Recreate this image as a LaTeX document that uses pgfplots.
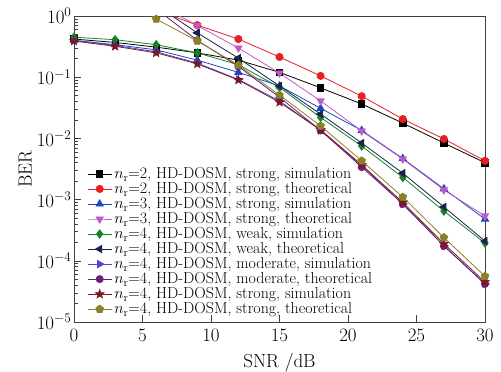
\RequirePackage{fix-cm}
\documentclass[border=0pt]{standalone}
\usepackage{pgfplots}
\pgfplotsset{compat=1.18}
\usetikzlibrary{plotmarks}
\definecolor{cred}{RGB}{232,30,36}
\definecolor{cblue}{RGB}{30,70,190}
\definecolor{cmag}{RGB}{190,90,200}
\definecolor{cgreen}{RGB}{20,130,40}
\definecolor{cnavy}{RGB}{25,35,75}
\definecolor{cviolet}{RGB}{85,70,200}
\definecolor{cpurple}{RGB}{110,30,120}
\definecolor{cbrown}{RGB}{125,25,35}
\definecolor{colive}{RGB}{135,130,40}
\pgfdeclareplotmark{fstar}{%
  \pgfpathmoveto{\pgfpointpolar{90}{\pgfplotmarksize}}%
  \pgfpathlineto{\pgfpointpolar{126}{0.42\pgfplotmarksize}}%
  \pgfpathlineto{\pgfpointpolar{162}{\pgfplotmarksize}}%
  \pgfpathlineto{\pgfpointpolar{198}{0.42\pgfplotmarksize}}%
  \pgfpathlineto{\pgfpointpolar{234}{\pgfplotmarksize}}%
  \pgfpathlineto{\pgfpointpolar{270}{0.42\pgfplotmarksize}}%
  \pgfpathlineto{\pgfpointpolar{306}{\pgfplotmarksize}}%
  \pgfpathlineto{\pgfpointpolar{342}{0.42\pgfplotmarksize}}%
  \pgfpathlineto{\pgfpointpolar{18}{\pgfplotmarksize}}%
  \pgfpathlineto{\pgfpointpolar{54}{0.42\pgfplotmarksize}}%
  \pgfpathclose
  \pgfusepathqfillstroke}
\begin{document}
\begin{tikzpicture}
\useasboundingbox (-74bp,-50bp) rectangle (427bp,322bp);
\begin{axis}[
  scale only axis, width=411bp, height=306bp,
  at={(0,0)}, anchor=south west,
  ymode=log, ymin=1e-5, ymax=1, xmin=0, xmax=30,
  xtick={0,5,...,30},
  ytick={1e-5,1e-4,1e-3,1e-2,1e-1,1},
  xtick pos=bottom, ytick pos=left,
  tick align=inside,
  major tick length=7bp, minor tick length=4bp,
  axis line style={line width=0.8pt, black!75},
  tick style={line width=0.6pt, black!75},
  tick label style={font=\fontsize{19}{21}\selectfont},
  label style={font=\fontsize{19}{21}\selectfont},
  xticklabel style={yshift=-4pt},
  yticklabel style={xshift=1pt},
  xlabel={SNR /dB}, ylabel={BER},
  xlabel style={yshift=-5pt},
  ylabel style={yshift=-2pt},
  every axis plot/.append style={line width=0.8pt, mark size=3.6pt},
  legend cell align=left,
  legend style={draw=none, fill=none, at={(0.029,0.515)}, anchor=north west,
    font=\fontsize{16}{16}\selectfont, row sep=-1.6pt, inner sep=1pt},
  legend image code/.code={\draw[mark repeat=2,mark phase=2,#1] plot coordinates {(0cm,0cm) (0.43cm,0cm) (0.86cm,0cm)};},
]
\addplot[black, mark=square*, mark size=3.2pt] coordinates {(0,0.42) (3,0.37) (6,0.31) (9,0.25) (12,0.19) (15,0.12) (18,0.067) (21,0.0365) (24,0.0178) (27,0.0084) (30,0.0040)};
\addlegendentry{$n_\mathrm{r}$=2, HD-DOSM, strong, simulation}
\addplot[cred, mark=*] coordinates {(6,1.25) (9,0.71) (12,0.42) (15,0.214) (18,0.105) (21,0.049) (24,0.0207) (27,0.0098) (30,0.0043)};
\addlegendentry{$n_\mathrm{r}$=2, HD-DOSM, strong, theoretical}
\addplot[cblue, mark=triangle*, mark size=4.2pt] coordinates {(0,0.40) (3,0.34) (6,0.28) (9,0.19) (12,0.12) (15,0.072) (18,0.031) (21,0.0135) (24,0.0047) (27,0.0015) (30,0.00048)};
\addlegendentry{$n_\mathrm{r}$=3, HD-DOSM, strong, simulation}
\addplot[cmag, mark=triangle*, mark size=4.2pt, mark options={rotate=180}] coordinates {(6,1.6) (9,0.70) (12,0.30) (15,0.117) (18,0.041) (21,0.0132) (24,0.0046) (27,0.00144) (30,0.00054)};
\addlegendentry{$n_\mathrm{r}$=3, HD-DOSM, strong, theoretical}
\addplot[cgreen, mark=diamond*, mark size=4.2pt] coordinates {(0,0.45) (3,0.41) (6,0.34) (9,0.25) (12,0.16) (15,0.068) (18,0.022) (21,0.0075) (24,0.0023) (27,0.00065) (30,0.000195)};
\addlegendentry{$n_\mathrm{r}$=4, HD-DOSM, weak, simulation}
\addplot[cnavy, mark=triangle*, mark size=4.2pt, mark options={rotate=90}] coordinates {(6,1.5) (9,0.53) (12,0.205) (15,0.072) (18,0.025) (21,0.0084) (24,0.0027) (27,0.00076) (30,0.00021)};
\addlegendentry{$n_\mathrm{r}$=4, HD-DOSM, weak, theoretical}
\addplot[cviolet, mark=triangle*, mark size=4.2pt, mark options={rotate=-90}] coordinates {(0,0.40) (3,0.33) (6,0.26) (9,0.17) (12,0.092) (15,0.041) (18,0.0135) (21,0.0036) (24,0.00085) (27,0.000175) (30,0.000042)};
\addlegendentry{$n_\mathrm{r}$=4, HD-DOSM, moderate, simulation}
\addplot[cpurple, mark=*] coordinates {(6,1.3) (9,0.40) (12,0.15) (15,0.047) (18,0.0135) (21,0.0034) (24,0.00085) (27,0.000175) (30,0.000042)};
\addlegendentry{$n_\mathrm{r}$=4, HD-DOSM, moderate, theoretical}
\addplot[cbrown, mark=fstar, mark size=4.4pt] coordinates {(0,0.39) (3,0.32) (6,0.25) (9,0.165) (12,0.09) (15,0.039) (18,0.0138) (21,0.0037) (24,0.0009) (27,0.00019) (30,0.000045)};
\addlegendentry{$n_\mathrm{r}$=4, HD-DOSM, strong, simulation}
\addplot[colive, mark=pentagon*, mark size=4pt] coordinates {(3,2.5) (6,0.89) (9,0.39) (12,0.158) (15,0.051) (18,0.016) (21,0.0043) (24,0.0011) (27,0.00024) (30,0.000056)};
\addlegendentry{$n_\mathrm{r}$=4, HD-DOSM, strong, theoretical}
\end{axis}
\end{tikzpicture}
\end{document}
